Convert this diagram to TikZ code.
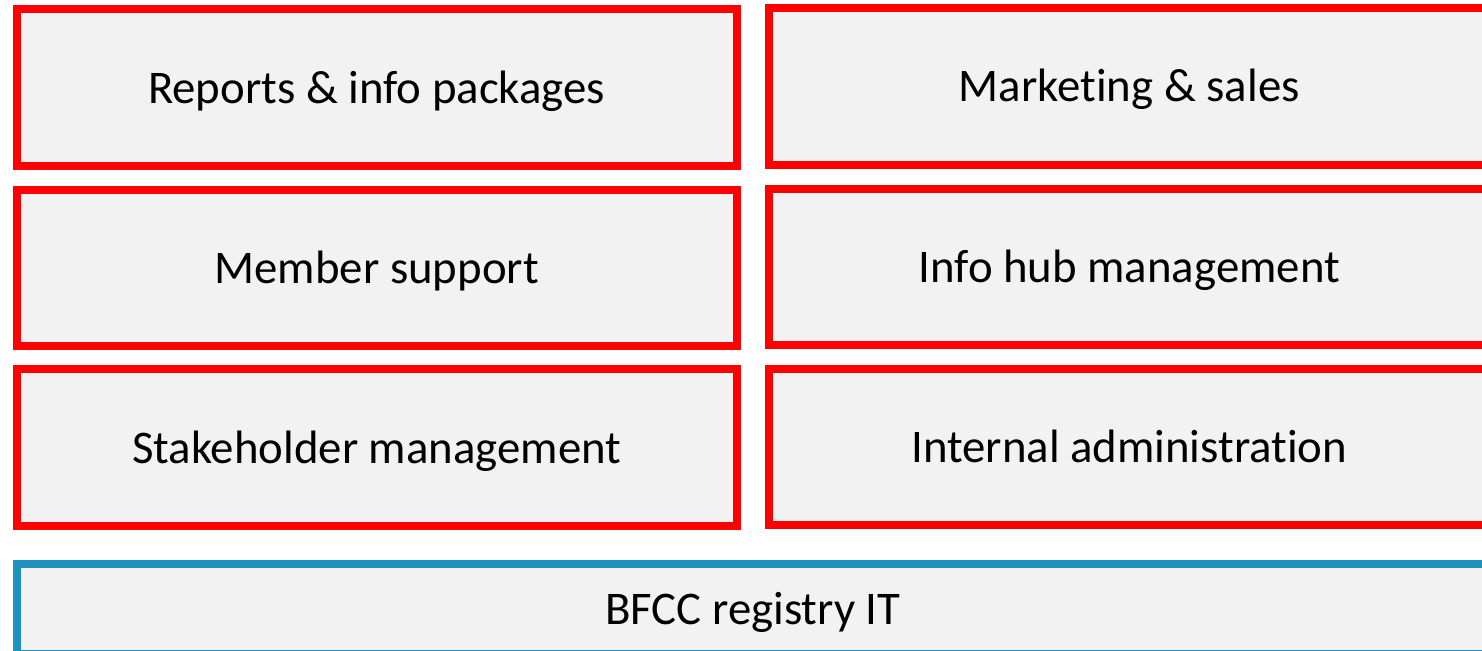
\documentclass[tikz,border=0pt]{standalone}
\usepackage{fontspec}
\setmainfont{Carlito}[RawFeature={-liga;-clig;-calt;-dlig}]
\definecolor{boxfill}{HTML}{F2F2F2}
\definecolor{boxred}{HTML}{FF0000}
\definecolor{boxblue}{HTML}{1F91C0}
\begin{document}
\begin{tikzpicture}[x=0.5pt,y=-0.5pt,
  tile/.style={draw=boxred, line width=4pt, fill=boxfill, inner sep=0pt, outer sep=0pt,
    minimum width=360.1pt, minimum height=78.25pt,
    text height=15.5pt, text depth=0pt, font=\fontsize{23.4}{27}\selectfont},
  itbox/.style={draw=boxblue, line width=4pt, fill=boxfill, inner sep=0pt, outer sep=0pt,
    minimum width=736.5pt, minimum height=44.85pt,
    text height=15.5pt, text depth=0pt, font=\fontsize{23.4}{27}\selectfont}]
\useasboundingbox (0,0) rectangle (1482,651);
\clip (0,0) rectangle (1482,651);
\node[tile] (reports) at (376.6,87.75) {Reports \& info packages};
\node[tile] (marketing) at (1129.25,86.5) {Market\kern0pt ing \& sales};
\node[tile] (member) at (376.6,268) {Member support};
\node[tile] (infohub) at (1129.25,267) {Info hub management};
\node[tile] (stake) at (376.6,447.6) {Stakeholder management};
\node[tile] (internal) at (1129.25,447) {Internal administrat\kern0pt ion};
\node[itbox] (registry) at (753,609.15) {BFCC registry IT};
\end{tikzpicture}
\end{document}
